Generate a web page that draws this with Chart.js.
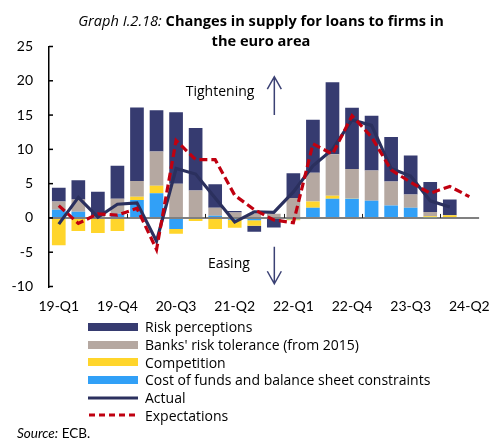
<!DOCTYPE html>
<html><head><meta charset="utf-8">
<script src="https://cdn.jsdelivr.net/npm/chart.js@4"></script>
<style>
html,body{margin:0;padding:0;background:#fff;}
#wrap{position:relative;width:502px;height:439px;overflow:hidden;font-family:Lato,"Noto Sans",sans-serif;color:#000;}
#c{position:absolute;left:0;top:0;}
#title{position:absolute;left:10px;top:10px;width:502px;text-align:center;font-size:14.6px;line-height:20px;font-family:"Open Sans",sans-serif;}
#title i{font-weight:normal;}
#legend{position:absolute;left:88px;top:318px;font-size:14px;font-family:"Open Sans",sans-serif;}
.row{height:17.7px;display:flex;align-items:center;white-space:nowrap;}
.row svg{width:50px;height:10px;margin-right:7px;flex:none;}
#source{position:absolute;left:17px;top:424px;font-size:13.5px;line-height:18px;}
</style></head>
<body>
<div id="wrap">
<canvas id="c" width="502" height="320" style="width:502px;height:320px"></canvas>
<div id="title"><i>Graph I.2.18:</i> <b>Changes in supply for loans to firms in<br>the euro area</b></div>
<div id="legend"></div>
<div id="source"><i>Source:</i> ECB.</div>
</div>
<script>
const categories = ['19-Q1','19-Q2','19-Q3','19-Q4','20-Q1','20-Q2','20-Q3','20-Q4','21-Q1','21-Q2','21-Q3','21-Q4','22-Q1','22-Q2','22-Q3','22-Q4','23-Q1','23-Q2','23-Q3','23-Q4','24-Q1','24-Q2'];
const costOfFunds    = [1.2, 0.9, 0, 0.6, 2.6, 3.6, -1.6, 0, 0.3, -0.25, -0.35, 0, -0.2, 1.5, 2.8, 2.8, 2.5, 1.8, 1.5, 0.1, 0, null];
const competition    = [-4.0, -1.9, -2.2, -1.9, 0.5, 1.1, -0.7, -0.45, -1.6, -1.2, -0.8, 0, -0.15, 0.9, 0.45, 0.05, 0, 0, 0, 0.15, 0.4, null];
const riskTolerance  = [1.2, 1.8, 0.2, 2.2, 2.3, 5.0, 5.0, 4.0, 1.2, 0.8, 0.6, 0.6, 2.9, 4.2, 6.05, 4.3, 4.4, 3.5, 1.9, 0.6, 0, null];
const riskPerceptions= [2.0, 2.8, 3.6, 4.8, 10.7, 6.0, 10.4, 9.1, 3.4, 0.2, -0.85, -1.4, 3.6, 7.7, 10.5, 8.9, 8.0, 6.5, 5.7, 4.4, 2.3, null];
const actual         = [-0.9, 3.0, 0.1, 2.0, 2.2, -3.4, 7.2, 6.4, 2.9, -0.6, 0.9, 0.8, 3.8, 7.6, 10.0, 14.3, 13.5, 7.2, 6.1, 2.5, 1.6, null];
const expectations   = [1.8, -0.8, 0.6, 0.4, 1.4, -4.6, 11.3, 8.5, 8.5, 3.3, 1.2, -0.3, -0.7, 10.8, 9.3, 14.9, 11.8, 7.0, 5.2, 3.6, 4.6, 3.1];
const yTicks = [-10, -5, 0, 5, 10, 15, 20, 25];

const NAVY='#363b70', GREY='#b5a8a1', YELLOW='#ffd52b', BLUE='#31a0f7', LINE='#2b305e', RED='#c00010';

const legendItems = [
  {label:'Risk perceptions', type:'bar', color:NAVY},
  {label:"Banks' risk tolerance (from 2015)", type:'bar', color:GREY},
  {label:'Competition', type:'bar', color:YELLOW},
  {label:'Cost of funds and balance sheet constraints', type:'bar', color:BLUE},
  {label:'Actual', type:'line', color:LINE},
  {label:'Expectations', type:'dash', color:RED}
];
const lg = document.getElementById('legend');
legendItems.forEach(it=>{
  const r=document.createElement('div'); r.className='row';
  let sw;
  if(it.type==='bar') sw=`<svg viewBox="0 0 50 10"><rect x="0" y="1" width="50" height="8" fill="${it.color}"/></svg>`;
  else if(it.type==='line') sw=`<svg viewBox="0 0 50 10"><line x1="0" y1="5" x2="50" y2="5" stroke="${it.color}" stroke-width="3" stroke-linecap="round"/></svg>`;
  else sw=`<svg viewBox="0 0 50 10"><line x1="1" y1="5" x2="50" y2="5" stroke="${it.color}" stroke-width="3" stroke-dasharray="6 4"/></svg>`;
  r.innerHTML=sw+'<span>'+it.label+'</span>';
  lg.appendChild(r);
});

Chart.defaults.font.family='Lato, "Noto Sans", sans-serif';
Chart.defaults.font.size=14;
Chart.defaults.color='#000';

const overlay = {
  id:'overlay',
  beforeDatasetsDraw(chart){
    const {ctx, scales:{x,y}} = chart;
    ctx.save(); ctx.strokeStyle='#222'; ctx.lineWidth=1;
    const py=y.getPixelForValue(0);
    categories.forEach((c,i)=>{
      if(i>0 && c.endsWith('Q1')){
        const px=Math.round((x.getPixelForValue(i-1)+x.getPixelForValue(i))/2)+0.5;
        ctx.beginPath(); ctx.moveTo(px,py); ctx.lineTo(px,py-4); ctx.stroke();
      }
    });
    ctx.restore();
  },
  afterDraw(chart){
    const {ctx, chartArea:a, scales:{x,y}} = chart;
    ctx.save();
    ctx.strokeStyle='#000'; ctx.lineWidth=1.5;
    y.ticks.forEach(t=>{
      const py=y.getPixelForValue(t.value);
      ctx.beginPath(); ctx.moveTo(a.left,py); ctx.lineTo(a.left+4,py); ctx.stroke();
    });
    ctx.fillStyle='#000'; ctx.font='14px "Open Sans", sans-serif';
    ctx.textAlign='center'; ctx.textBaseline='middle';
    ctx.fillText('Tightening', x.getPixelForValue(8.25), y.getPixelForValue(18.4));
    ctx.fillText('Easing', x.getPixelForValue(8.7), y.getPixelForValue(-6.7));
    ctx.strokeStyle='#3b4174'; ctx.lineWidth=1.5;
    const ax=x.getPixelForValue(11)+0.5;
    const up1=y.getPixelForValue(15.0), up2=y.getPixelForValue(20.6);
    ctx.beginPath(); ctx.moveTo(ax,up1); ctx.lineTo(ax,up2);
    ctx.moveTo(ax-7,up2+12.5); ctx.lineTo(ax,up2); ctx.lineTo(ax+7,up2+12.5); ctx.stroke();
    const dn1=y.getPixelForValue(-4.2), dn2=y.getPixelForValue(-9.6);
    ctx.beginPath(); ctx.moveTo(ax,dn1); ctx.lineTo(ax,dn2);
    ctx.moveTo(ax-7,dn2-12.5); ctx.lineTo(ax,dn2); ctx.lineTo(ax+7,dn2-12.5); ctx.stroke();
    ctx.restore();
  }
};

const barDs=(label,data,color)=>({type:'bar',label,data,backgroundColor:color,borderWidth:0,stack:'bars',order:2,barPercentage:0.7,categoryPercentage:1});
new Chart(document.getElementById('c'),{
  data:{
    labels:categories,
    datasets:[
      barDs('Cost of funds and balance sheet constraints',costOfFunds,BLUE),
      barDs('Competition',competition,YELLOW),
      barDs("Banks' risk tolerance (from 2015)",riskTolerance,GREY),
      barDs('Risk perceptions',riskPerceptions,NAVY),
      {type:'line',label:'Actual',data:actual,borderColor:LINE,borderWidth:3.2,pointRadius:0,tension:0,stack:'a',order:1,fill:false,borderJoinStyle:'miter'},
      {type:'line',label:'Expectations',data:expectations,borderColor:RED,borderWidth:3.2,borderDash:[8,4],pointRadius:0,tension:0,stack:'e',order:0,fill:false}
    ]
  },
  options:{
    responsive:false, animation:false,
    layout:{padding:{top:46.5,right:13,left:0,bottom:0}},
    plugins:{legend:{display:false},tooltip:{enabled:false}},
    scales:{
      x:{stacked:true, offset:true,
        grid:{display:false,drawTicks:false}, border:{display:false},
        ticks:{autoSkip:false,maxRotation:0,padding:12,callback:(v,i)=> i%3===0 ? categories[i] : ''},
        afterFit:s=>{s.height=33.5;}
      },
      y:{stacked:true, min:-10, max:25,
        afterBuildTicks:s=>{s.ticks=yTicks.map(v=>({value:v}));},
        grid:{drawTicks:false, color:c=> (c.tick && c.tick.value===0)?'#808080':'rgba(0,0,0,0)', lineWidth:2},
        border:{display:true,color:'#000',width:1.5},
        ticks:{padding:16},
        afterFit:s=>{s.width=49;}
      }
    }
  },
  plugins:[overlay]
});
</script>
</body></html>
